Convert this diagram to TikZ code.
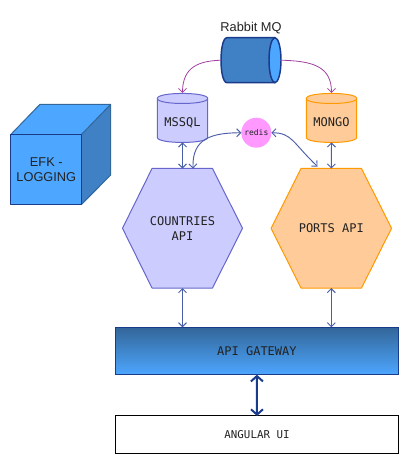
\documentclass[tikz,border=0pt]{standalone}
\usepackage{fontspec}
\setmainfont{Liberation Sans}
\newfontfamily\monof{DejaVu Sans Mono}
\usetikzlibrary{arrows.meta,backgrounds,calc}
\definecolor{lilac}{HTML}{CCCCFF}
\definecolor{lilacline}{HTML}{6666CC}
\definecolor{peach}{HTML}{FFCC99}
\definecolor{orangeline}{HTML}{FF9900}
\definecolor{skyb}{HTML}{4DA6FF}
\definecolor{midb}{HTML}{4080C4}
\definecolor{deepb}{HTML}{336699}
\definecolor{navyb}{HTML}{1A3A8A}
\definecolor{linkb}{HTML}{4A5FA8}
\definecolor{plum}{HTML}{A040A0}
\definecolor{pinkc}{HTML}{FF99FF}
\definecolor{inkc}{HTML}{222222}
\newcommand{\dblower}{\rule[-1.5pt]{0pt}{16.5pt}}
\tikzset{
  x=0.75pt,y=-0.75pt,
  geom/.style={inner sep=0pt,outer sep=0pt,text=inkc,align=center,rectangle},
  monolabel/.style={geom,font=\monof\fontsize{9}{11.25}\selectfont},
  sanslabel/.style={geom,font=\fontsize{9.6}{11.25}\selectfont},
  lilacshape/.style={fill=lilac,draw=lilacline,line width=0.75pt,line join=round},
  peachshape/.style={fill=peach,draw=orangeline,line width=0.75pt,line join=round},
  mqlink/.style={draw=plum,line width=0.6pt,-{Straight Barb[length=3pt,width=6pt]}},
  apilink/.style={draw=linkb,line width=0.7pt,{Straight Barb[length=3pt,width=6pt]}-{Straight Barb[length=3pt,width=6pt]}},
  uilink/.style={draw=navyb,line width=1.5pt,{Straight Barb[length=4pt,width=9pt]}-{Straight Barb[length=4pt,width=9pt]}},
}
\begin{document}
\begin{tikzpicture}
\useasboundingbox (0,0) rectangle (411,463);
% ---- frame nodes that hold the texts and give the anchors
\node[sanslabel,minimum width=45pt,minimum height=33.75pt] (rabbit) at (251,60.2) {};
\node[sanslabel] (rabbitlabel) at (251,28.5) {Rabbit MQ};
\node[monolabel,minimum width=37.8pt,minimum height=37.1pt] (mssql) at (182.5,117.7) {\dblower MSSQL};
\node[monolabel,minimum width=37.8pt,minimum height=37.1pt] (mongo) at (331.5,117.7) {\dblower MONGO};
\node[geom,circle,fill=pinkc,minimum size=22.5pt,font=\monof\fontsize{6}{7}\selectfont] (redis) at (256.3,132.7) {redis};
\node[monolabel,minimum width=90pt,minimum height=89.6pt] (countries) at (182.5,228.3) {COUNTRIES\\API};
\node[monolabel,minimum width=90.4pt,minimum height=89.6pt] (ports) at (331.3,228.3) {PORTS API};
\node[monolabel,draw=navyb,line width=0.75pt,top color=deepb,bottom color=skyb,minimum width=212.8pt,minimum height=35.6pt] (gateway) at (256.9,351) {API GATEWAY};
\node[monolabel,draw=black,line width=0.75pt,fill=white,minimum width=212.4pt,minimum height=27.8pt,font=\monof\fontsize{8.1}{10}\selectfont] (angular) at (257,434.5) {ANGULAR UI};
\node[sanslabel,minimum width=53pt,minimum height=52.5pt] (efk) at (46.3,169.3) {EFK -\\LOGGING};
\coordinate (portsin) at (317.5,166.5);
% ---- drawn outlines, behind the texts
\begin{scope}[on background layer]
  % cube
  \fill[midb] (efk.north east) -- (110.7,104.3) -- (110.7,175) -- (efk.south east) -- cycle;
  \fill[skyb] (efk.north west) -- (40,104.3) -- (110.7,104.3) -- (efk.north east) -- cycle;
  \fill[skyb] (efk.north west) rectangle (efk.south east);
  \draw[deepb,line width=0.75pt,line join=round] (efk.north west) -- (40,104.3) -- (110.7,104.3) -- (110.7,175) -- (efk.south east);
  \draw[deepb,line width=0.75pt] (efk.north east) -- (110.7,104.3);
  \draw[navyb,line width=0.75pt,line join=round] (efk.north west) rectangle (efk.south east);
  % queue
  \fill[midb] (227,37.7) -- (275,37.7) -- (275,82.7) -- (227,82.7) .. controls (219,82.7) and (219,37.7) .. (227,37.7) -- cycle;
  \draw[navyb,line width=1.1pt] (275,37.7) -- (227,37.7) .. controls (219,37.7) and (219,82.7) .. (227,82.7) -- (275,82.7);
  \draw[fill=skyb,draw=navyb,line width=1.1pt] (275,60.2) ellipse [x radius=6,y radius=22.5];
  % databases
  \foreach \db/\sty in {mssql/lilacshape,mongo/peachshape}{
    \draw[\sty] ($(\db.north west)+(0,5.5)$) -- ($(\db.south west)+(0,-5)$)
      .. controls ($(\db.south west)+(0,1.7)$) and ($(\db.south east)+(0,1.7)$) .. ($(\db.south east)+(0,-5)$)
      -- ($(\db.north east)+(0,5.5)$)
      .. controls ($(\db.north east)+(0,-1.2)$) and ($(\db.north west)+(0,-1.2)$) .. cycle;
    \draw[\sty,fill=none] ($(\db.north west)+(0,5.5)$)
      .. controls ($(\db.north west)+(0,12.2)$) and ($(\db.north east)+(0,12.2)$) .. ($(\db.north east)+(0,5.5)$);
  }
  % hexagons
  \draw[lilacshape] (countries.west) -- (152,168.5) -- (212.5,168.5) -- (countries.east) -- (212.5,288) -- (152,288) -- cycle;
  \draw[peachshape] (ports.west) -- (301,168.5) -- (361.5,168.5) -- (ports.east) -- (361.5,288) -- (301,288) -- cycle;
\end{scope}
% ---- connectors
\draw[mqlink] (rabbit.west) .. controls (200,61) and (182.5,66) .. (mssql.north);
\draw[mqlink] (rabbit.east) .. controls (312,61) and (331.5,66) .. (mongo.north);
\draw[apilink] (mssql.south) -- (countries.north);
\draw[apilink] (mongo.south) -- (ports.north);
\draw[apilink] (redis.west) .. controls (212,133) and (192,138) .. (countries.80);
\draw[apilink] (redis.east) .. controls (292,133) and (292,142) .. (portsin);
\draw[apilink] (countries.south) -- (gateway.north -| countries.south);
\draw[apilink] (ports.south) -- (gateway.north -| ports.south);
\draw[uilink] (gateway.south) -- (angular.north);
\end{tikzpicture}
\end{document}
